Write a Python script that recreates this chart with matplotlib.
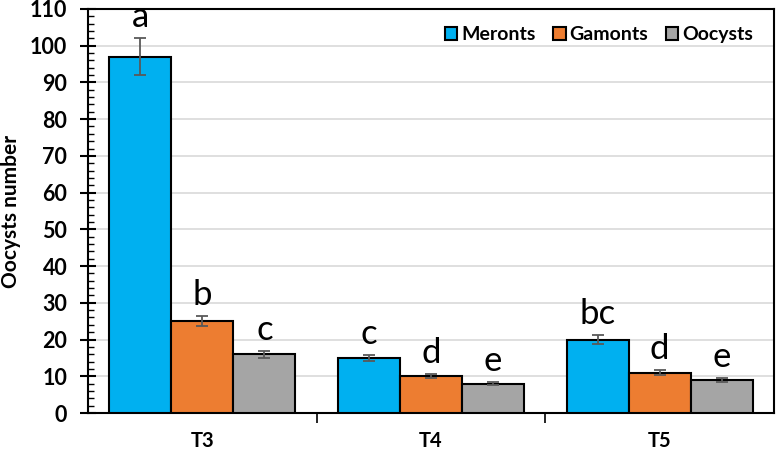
import numpy as np
import matplotlib
matplotlib.use("Agg")
import matplotlib.pyplot as plt
from matplotlib.ticker import MultipleLocator, FixedLocator

# Datos
groups = ["T3", "T4", "T5"]
series = ["Meronts", "Gamonts", "Oocysts"]
meronts = [97, 15, 20]
gamonts = [25, 10, 11]
oocysts = [16, 8, 9]
meronts_err = [5, 0.8, 1.2]
gamonts_err = [1.3, 0.6, 0.6]
oocysts_err = [1.0, 0.5, 0.5]
meronts_lbl = ["a", "c", "bc"]
gamonts_lbl = ["b", "d", "d"]
oocysts_lbl = ["c", "e", "e"]

colors = ["#00B0F0", "#ED7D31", "#A5A5A5"]

plt.rcParams["font.family"] = ["Lato", "DejaVu Sans"]

fig = plt.figure(figsize=(7.77, 4.53), dpi=100)
ax = fig.add_axes([0.1133, 0.0883, 0.8829, 0.892])

x = np.arange(len(groups))
width = 0.271
data = [meronts, gamonts, oocysts]
errs = [meronts_err, gamonts_err, oocysts_err]
lbls = [meronts_lbl, gamonts_lbl, oocysts_lbl]

for i, (vals, err, lab) in enumerate(zip(data, errs, lbls)):
    pos = x + (i - 1) * width
    ax.bar(pos, vals, width, color=colors[i], edgecolor="black", linewidth=1.5,
           label=series[i], zorder=3)
    ax.errorbar(pos, vals, yerr=err, fmt="none", ecolor="#595959", elinewidth=1.3,
                capsize=4, capthick=1.3, zorder=4)
    for p, v, e, t in zip(pos, vals, err, lab):
        ax.text(p, v + e + 3.0, t, ha="center", va="baseline", fontsize=25, zorder=5)

ax.set_xlim(-0.5, 2.5)
ax.set_ylim(0, 110)
ax.yaxis.set_major_locator(MultipleLocator(10))
ax.yaxis.set_minor_locator(MultipleLocator(2))
ax.set_xticks(x)
ax.set_xticklabels(groups, fontweight="bold", fontsize=14.5)
ax.xaxis.set_minor_locator(FixedLocator([0.5, 1.5]))
ax.tick_params(axis="x", which="major", length=4, direction="in", pad=13)
ax.tick_params(axis="x", which="minor", length=7, direction="out", width=1.2)
ax.tick_params(axis="y", which="major", length=12, direction="inout", width=1.5,
               labelsize=15.5, pad=9)
ax.tick_params(axis="y", which="minor", length=4, direction="in", width=1)
for t in ax.get_yticklabels():
    t.set_fontweight("bold")

ax.grid(axis="y", color="#D9D9D9", linewidth=1.2, zorder=0)
for s in ax.spines.values():
    s.set_linewidth(1.5)

ax.set_ylabel("Oocysts number", fontsize=15, fontweight="bold", labelpad=6)

ax.legend(loc="upper right", frameon=False, ncol=3, handlelength=0.65,
          handleheight=0.65, handletextpad=0.2, columnspacing=0.9,
          prop={"weight": "bold", "size": 14}, bbox_to_anchor=(0.995, 1.0))

fig.savefig("out.png", dpi=100)
